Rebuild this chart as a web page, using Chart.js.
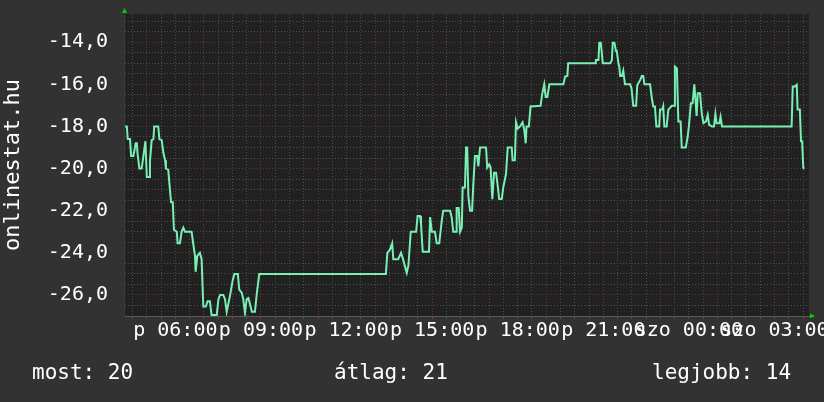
<!DOCTYPE html>
<html>
<head>
<meta charset="utf-8">
<script src="https://cdn.jsdelivr.net/npm/chart.js@4/dist/chart.umd.min.js"></script>
<style>
    html, body { margin: 0; padding: 0; background: #323232; }
    canvas { display: block; }
</style>
</head>
<body>
<canvas id="rankChart" width="824" height="402"></canvas>
<script>
// időpontok órában (péntek 0:00-tól számolva) és a helyezés
const hours = [
    4.24, 4.30, 4.33, 4.41, 4.45, 4.53, 4.61, 4.65, 4.68, 4.74, 4.82, 4.88, 4.95, 5.00, 5.08, 5.11,
    5.17, 5.23, 5.26, 5.40, 5.44, 5.52, 5.58, 5.64, 5.67, 5.75, 5.81, 5.85, 5.91, 5.95, 6.05, 6.08,
    6.16, 6.22, 6.28, 6.34, 6.57, 6.63, 6.69, 6.71, 6.77, 6.86, 6.92, 6.98, 7.07, 7.13, 7.21, 7.27,
    7.45, 7.51, 7.57, 7.68, 7.74, 7.80, 7.86, 7.92, 8.01, 8.07, 8.19, 8.24, 8.33, 8.38, 8.44, 8.50,
    8.56, 8.62, 8.68, 8.79, 8.85, 8.94, 13.38, 13.43, 13.52, 13.60, 13.64, 13.81, 13.91, 13.98, 14.11, 14.17,
    14.25, 14.44, 14.49, 14.58, 14.61, 14.67, 14.89, 14.93, 14.99, 15.10, 15.16, 15.25, 15.34, 15.39, 15.63, 15.69,
    15.74, 15.84, 15.86, 15.93, 15.98, 16.04, 16.07, 16.15, 16.19, 16.23, 16.27, 16.33, 16.40, 16.44, 16.50, 16.58,
    16.62, 16.68, 16.89, 16.93, 17.00, 17.05, 17.11, 17.17, 17.24, 17.28, 17.35, 17.44, 17.50, 17.59, 17.65, 17.79,
    17.82, 17.90, 17.94, 18.00, 18.08, 18.17, 18.23, 18.28, 18.31, 18.39, 18.45, 18.80, 18.86, 18.93, 18.98, 19.04,
    19.11, 19.60, 19.66, 19.74, 19.77, 20.71, 20.74, 20.83, 20.86, 20.91, 20.94, 20.98, 21.24, 21.30, 21.33, 21.39,
    21.44, 21.47, 21.53, 21.56, 21.59, 21.65, 21.70, 21.76, 21.94, 21.99, 22.05, 22.15, 22.19, 22.29, 22.35, 22.40,
    22.44, 22.64, 22.70, 22.75, 22.81, 22.86, 22.96, 22.99, 23.07, 23.10, 23.14, 23.22, 23.28, 23.40, 23.48, 23.51,
    23.58, 23.63, 23.71, 23.75, 23.89, 23.95, 24.00, 24.07, 24.13, 24.19, 24.23, 24.27, 24.31, 24.39, 24.45, 24.51,
    24.60, 24.66, 24.71, 24.81, 24.88, 24.93, 24.97, 25.07, 25.11, 25.16, 27.60, 27.64, 27.72, 27.78, 27.81, 27.89,
    27.93, 27.97, 28.01, 28.05
];
const ranks = [
    -18.0, -18.0, -18.6, -18.6, -19.4, -19.4, -18.8, -18.8, -19.35, -20.0, -20.0, -19.4, -18.7, -20.4, -20.4, -19.65,
    -18.65, -18.6, -18.0, -18.0, -18.6, -18.65, -19.25, -19.6, -20.0, -20.05, -21.0, -21.6, -21.6, -22.9, -23.0, -23.55,
    -23.55, -23.0, -22.8, -23.0, -23.0, -23.6, -24.15, -24.9, -24.15, -24.0, -24.3, -26.55, -26.55, -26.3, -26.3, -26.95,
    -26.95, -26.2, -26.0, -26.0, -26.2, -26.8, -26.4, -26.0, -25.3, -25.0, -25.0, -25.75, -25.9, -26.2, -26.85, -26.2,
    -26.15, -26.45, -26.8, -26.8, -26.0, -25.0, -25.0, -24.0, -23.85, -23.55, -24.3, -24.3, -24.0, -24.3, -24.95, -24.6,
    -23.0, -23.0, -22.25, -22.25, -22.6, -23.95, -23.95, -22.3, -23.0, -23.0, -23.55, -23.55, -22.45, -22.0, -22.0, -22.35,
    -23.0, -23.0, -21.87, -21.87, -23.0, -22.8, -20.9, -20.9, -19.0, -19.0, -21.3, -22.0, -22.0, -20.85, -19.4, -19.4,
    -19.9, -19.0, -19.0, -19.95, -19.8, -19.95, -21.45, -20.2, -20.2, -20.6, -21.45, -21.45, -20.85, -20.25, -19.0, -19.0,
    -19.6, -19.6, -17.8, -18.1, -18.0, -17.8, -18.15, -18.8, -18.0, -18.0, -17.05, -17.02, -16.45, -16.0, -16.6, -16.6,
    -16.0, -16.0, -15.63, -15.6, -15.0, -15.0, -14.85, -14.85, -14.02, -14.02, -14.4, -15.0, -15.0, -14.85, -14.02, -14.02,
    -14.4, -14.4, -15.0, -15.15, -15.6, -15.6, -15.35, -16.0, -16.0, -16.2, -17.02, -17.02, -16.05, -15.8, -15.6, -15.6,
    -16.0, -16.0, -16.65, -17.05, -17.05, -18.0, -18.0, -17.2, -17.2, -17.05, -18.0, -18.0, -17.2, -17.02, -17.02, -15.16,
    -15.25, -17.76, -17.76, -19.0, -19.0, -18.55, -18.0, -16.9, -16.9, -16.0, -16.7, -17.5, -16.42, -16.42, -17.37, -17.84,
    -17.76, -17.45, -17.92, -18.0, -18.0, -17.4, -17.85, -17.85, -17.55, -18.0, -18.0, -16.1, -16.1, -16.02, -17.2, -17.2,
    -18.7, -18.7, -19.97, -20.0
];

const xTickHours = [6, 9, 12, 15, 18, 21, 24, 27];
const xTickLabels = ['p 06:00', 'p 09:00', 'p 12:00', 'p 15:00', 'p 18:00', 'p 21:00', 'szo 00:00', 'szo 03:00'];
const summaryLabels = ['most: 20', 'átlag: 21', 'legjobb: 14'];
const axisTitle = 'onlinestat.hu';

const MONO = '"DejaVu Sans Mono", monospace';
const MAJOR = '#6e3434';
const MINOR = '#4e4e4e';

// sötét rajzterület háttér
const plotBackground = {
    id: 'plotBackground',
    beforeDraw(chart) {
        const {ctx, chartArea: a} = chart;
        ctx.save();
        ctx.fillStyle = '#212121';
        ctx.fillRect(a.left, a.top, a.right - a.left, a.bottom - a.top);
        ctx.restore();
    }
};

// összesítő sor és a zöld nyilak
const footer = {
    id: 'footer',
    afterDraw(chart) {
        const {ctx, chartArea: a} = chart;
        ctx.save();
        ctx.fillStyle = '#ffffff';
        ctx.font = '21px ' + MONO;
        ctx.textBaseline = 'middle';
        const xs = [32, 334, 652];
        summaryLabels.forEach((t, i) => ctx.fillText(t, xs[i], 374));

        ctx.fillStyle = '#00d000';
        ctx.beginPath();
        ctx.moveTo(a.left - 2, a.top - 1);
        ctx.lineTo(a.left + 3, a.top - 1);
        ctx.lineTo(a.left + 0.5, a.top - 6);
        ctx.closePath();
        ctx.fill();
        ctx.beginPath();
        ctx.moveTo(a.right + 1, a.bottom - 2.5);
        ctx.lineTo(a.right + 1, a.bottom + 2.5);
        ctx.lineTo(a.right + 6, a.bottom);
        ctx.closePath();
        ctx.fill();
        ctx.restore();
    }
};

const ctx = document.getElementById('rankChart').getContext('2d');
new Chart(ctx, {
    type: 'line',
    data: {
        datasets: [{
            data: hours.map((h, i) => ({x: h, y: ranks[i]})),
            borderColor: '#78f0b4',
            borderWidth: 2,
            pointRadius: 0,
            tension: 0,
            fill: false
        }]
    },
    options: {
        responsive: false,
        animation: false,
        events: [],
        layout: { padding: { left: 0, right: 15, top: 14, bottom: 0 } },
        plugins: { legend: { display: false }, tooltip: { enabled: false } },
        scales: {
            x: {
                type: 'linear',
                min: 4.2,
                max: 28.21,
                afterFit(scale) {
                    scale.paddingLeft = 0;
                    scale.paddingRight = 0;
                    scale.height = 86;
                },
                ticks: {
                    stepSize: 0.5,
                    includeBounds: false,
                    autoSkip: false,
                    maxRotation: 0,
                    minRotation: 0,
                    padding: 0,
                    color: '#ffffff',
                    font: { family: MONO, size: 20 },
                    callback: v => {
                        const i = xTickHours.indexOf(v);
                        return i >= 0 ? xTickLabels[i] : '';
                    }
                },
                grid: {
                    color: c => (c.tick && c.tick.value % 2 === 1) ? MAJOR : MINOR,
                    tickColor: c => (c.tick && Number.isInteger(c.tick.value)) ? '#8a3c3c' : '#555555',
                    tickLength: 3,
                    lineWidth: 1
                },
                border: { color: '#5a5a5a', width: 1, dash: [1, 2] }
            },
            y: {
                min: -27,
                max: -12.66,
                afterFit(scale) {
                    scale.width = 124;
                    scale.paddingTop = 0;
                    scale.paddingBottom = 0;
                },
                ticks: {
                    stepSize: 0.5,
                    includeBounds: false,
                    autoSkip: false,
                    padding: 16,
                    color: '#ffffff',
                    font: { family: MONO, size: 20 },
                    callback: v => (Number.isInteger(v) && v % 2 === 0) ? v.toFixed(1).replace('.', ',') : ''
                },
                grid: {
                    color: c => (c.tick && Number.isInteger(c.tick.value) && c.tick.value % 2 === 0) ? MAJOR : MINOR,
                    drawTicks: false,
                    lineWidth: 1
                },
                border: { color: '#3c3c3c', width: 1, dash: [1, 2] },
                title: {
                    display: true,
                    text: axisTitle,
                    color: '#ffffff',
                    padding: 0,
                    font: { family: MONO, size: 22 }
                }
            }
        }
    },
    plugins: [plotBackground, footer]
});
</script>
</body>
</html>
